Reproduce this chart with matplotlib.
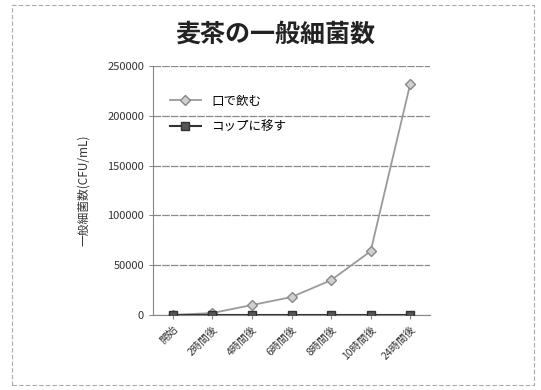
import matplotlib
matplotlib.use("Agg")
import matplotlib.pyplot as plt
from matplotlib.patches import Rectangle

plt.rcParams['font.family'] = ['Noto Sans CJK JP', 'DejaVu Sans']

categories = ["開始", "2時間後", "4時間後", "6時間後", "8時間後", "10時間後", "24時間後"]
mouth = [0, 2000, 10000, 18000, 35000, 64000, 232000]
cup = [300, 300, 300, 300, 300, 300, 300]
yticks = [0, 50000, 100000, 150000, 200000, 250000]

fig = plt.figure(figsize=(5.41, 3.90), dpi=100)
fig.patch.set_facecolor('white')
fig.patches.append(Rectangle((12/541, 5/390), 522/541, 380/390, transform=fig.transFigure,
                             fill=False, edgecolor='#aaaaaa', linewidth=0.8, linestyle=(0, (4, 2))))

ax = fig.add_axes([153/541, 1 - 315/390, 277/541, 249/390])
x = list(range(len(categories)))
ax.plot(x, mouth, color='#9a9a9a', linewidth=1.3, marker='D', markersize=5,
        markerfacecolor='#d0d0d0', markeredgecolor='#888888', label='口で飲む', zorder=3)
ax.plot(x, cup, color='#333333', linewidth=1.5, marker='s', markersize=6,
        markerfacecolor='#555555', markeredgecolor='#333333', label='コップに移す', zorder=4)

ax.set_ylim(0, 250000)
ax.set_xlim(-0.5, len(categories) - 0.5)
ax.set_yticks(yticks)
ax.set_yticklabels([str(v) for v in yticks], fontsize=8, color='#333333')
ax.set_xticks(x)
ax.set_xticklabels(categories, rotation=45, ha='right', rotation_mode='anchor', fontsize=7.5, color='#333333')
ax.yaxis.grid(True, color='#8a8a8a', linewidth=0.9, linestyle=(0, (6, 1)))
ax.set_axisbelow(True)
for s in ['top', 'right']:
    ax.spines[s].set_visible(False)
ax.spines['left'].set_color('#888888')
ax.spines['bottom'].set_color('#888888')
ax.tick_params(axis='both', length=3, color='#888888')

ax.set_ylabel('一般細菌数(CFU/mL)', fontsize=8.5, color='#333333', labelpad=12)
fig.text(0.51, 1 - 35/390, '麦茶の一般細菌数', ha='center', va='center', fontsize=18, fontweight='bold', color='#222222')

ax.legend(loc='upper left', bbox_to_anchor=(0.02, 0.93), frameon=False, fontsize=9,
          handlelength=2.5, labelspacing=1.0)

fig.savefig('out.png', dpi=100)
